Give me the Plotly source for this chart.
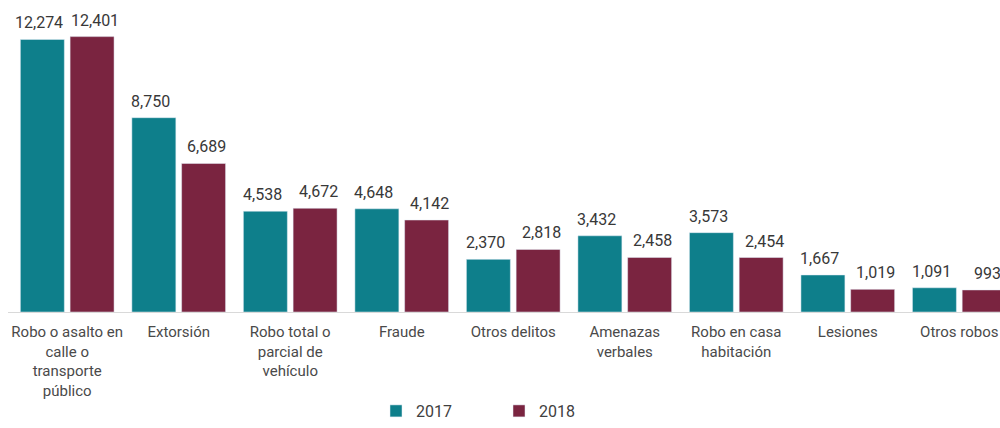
import plotly.graph_objects as go

categories = ["Robo o asalto en<br>calle o<br>transporte<br>público", "Extorsión",
              "Robo total o<br>parcial de<br>vehículo", "Fraude", "Otros delitos",
              "Amenazas<br>verbales", "Robo en casa<br>habitación", "Lesiones", "Otros robos"]
values_2017 = [12274, 8750, 4538, 4648, 2370, 3432, 3573, 1667, 1091]
values_2018 = [12401, 6689, 4672, 4142, 2818, 2458, 2454, 1019, 993]

TEAL = "#0E7F8B"
MAROON = "#7A2440"
FONT = "Roboto"

fig = go.Figure()
fig.add_trace(go.Bar(name="2017", x=categories, y=values_2017, marker_color=TEAL))
fig.add_trace(go.Bar(name="2018", x=categories, y=values_2018, marker_color=MAROON))

for cat, v17, v18 in zip(categories, values_2017, values_2018):
    for v, dx in ((v17, -28), (v18, 28)):
        fig.add_annotation(x=cat, y=v, text=f"{v:,}", showarrow=False,
                           xanchor="center", yanchor="bottom", xshift=dx, yshift=5,
                           font=dict(size=16, color="#383838", family=FONT))

fig.update_layout(
    width=1000, height=428,
    margin=dict(l=8, r=0, t=10, b=115.5),
    paper_bgcolor="white", plot_bgcolor="white",
    barmode="group", bargap=0.108, bargroupgap=0.116,
    font=dict(family=FONT, size=15, color="#4a4a4a"),
    showlegend=True,
    legend=dict(orientation="h", xref="container", yref="container",
                x=0.499, xanchor="center", y=-0.026, yanchor="bottom",
                entrywidth=78, font=dict(size=16, color="#404040")),
)
fig.update_xaxes(range=[-0.531, 8.365], showline=True, linecolor="#d9d9d9", linewidth=1,
                 ticks="", ticklabelstandoff=6, tickfont=dict(size=15, color="#4a4a4a"),
                 showgrid=False, fixedrange=True, automargin=False)
fig.update_yaxes(range=[0, 13600], visible=False, showgrid=False, fixedrange=True,
                 automargin=False)

fig.write_html("out.html", config={"displayModeBar": False},
               post_script="document.body.style.margin='0';document.body.style.overflow='hidden';")
